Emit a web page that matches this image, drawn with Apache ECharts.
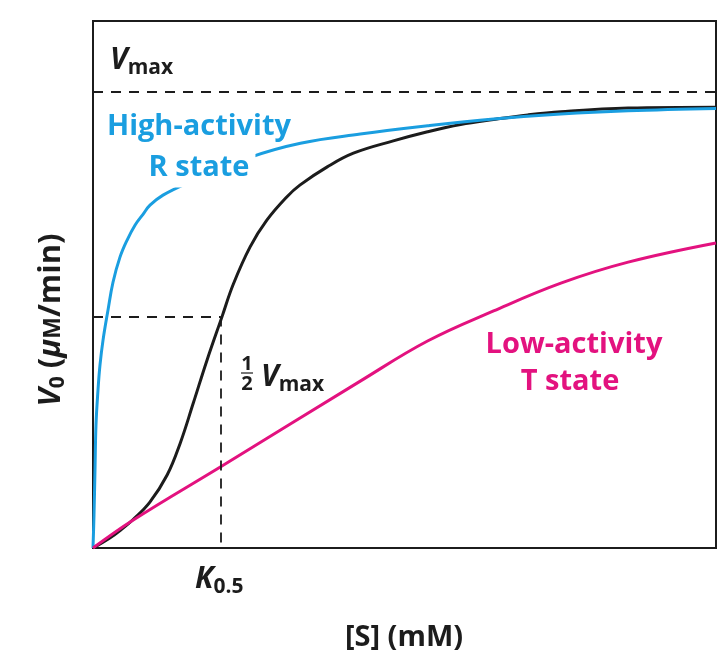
<!DOCTYPE html>
<html>
<head>
<meta charset="utf-8">
<script src="https://cdn.jsdelivr.net/npm/echarts@6/dist/echarts.min.js"></script>
<style>
  html, body { margin: 0; padding: 0; background: #fff; }
  #chart { width: 723px; height: 664px; }
</style>
</head>
<body>
<div id="chart"></div>
<script>
// [S] on an arbitrary 0-10 scale, V0 as a fraction of Vmax
const rState = [
  [0, 0], [0.016, 0.072], [0.032, 0.171], [0.048, 0.27], [0.08, 0.346], [0.112, 0.401],
  [0.161, 0.456], [0.241, 0.522], [0.321, 0.583], [0.433, 0.638], [0.546, 0.675],
  [0.674, 0.708], [0.803, 0.732], [0.915, 0.752], [1.124, 0.774], [1.51, 0.80],
  [2.52, 0.857], [3.33, 0.888], [4.29, 0.908], [5.37, 0.926], [6.43, 0.941],
  [7.51, 0.952], [8.59, 0.959], [10, 0.964]
];
const sigmoid = [
  [0, 0], [0.27, 0.022], [0.45, 0.04], [0.64, 0.062], [0.91, 0.10], [1.19, 0.16],
  [1.40, 0.23], [1.61, 0.318], [1.83, 0.412], [2.07, 0.507], [2.25, 0.578], [2.52, 0.66],
  [2.79, 0.719], [3.11, 0.77], [3.32, 0.796], [3.76, 0.836], [4.18, 0.866], [4.82, 0.893],
  [5.37, 0.913], [5.90, 0.929], [6.43, 0.94], [6.98, 0.95], [7.51, 0.957], [8.59, 0.965],
  [10, 0.967]
];
const tState = [
  [0, 0], [0.64, 0.061], [2.07, 0.18], [4.29, 0.366], [5.37, 0.454], [6.43, 0.52],
  [7.51, 0.581], [8.59, 0.627], [10, 0.669]
];
const vMax = 1;
const halfVmax = 0.508;
const k05 = 2.05;

const BLUE = '#1a9ee0';
const PINK = '#e3127f';
const INK = '#1c1c1c';
const FONT = 'Open Sans';

const chart = echarts.init(document.getElementById('chart'));

const dashed = { type: [10, 8], color: INK, width: 1.8 };

function label(text, x, y, size, color, extra) {
  return Object.assign({
    type: 'text', x: x, y: y, z: 100,
    style: {
      text: text, fill: color, font: 'bold ' + size + 'px "' + FONT + '"',
      align: 'center', verticalAlign: 'middle'
    }
  }, extra || {});
}

// rich-text pieces: big italic letter + subscript
const subRich = {
  v: { fontFamily: FONT, fontWeight: 'bold', fontStyle: 'italic', fontSize: 30, fill: INK },
  s: { fontFamily: FONT, fontWeight: 'bold', fontSize: 21, fill: INK, padding: [17, 0, 0, 0] }
};

chart.setOption({
  animation: false,
  grid: {
    left: 93, right: 7, top: 21, bottom: 116,
    show: true, borderColor: INK, borderWidth: 2, backgroundColor: 'transparent'
  },
  xAxis: {
    type: 'value', min: 0, max: 10,
    axisLine: { show: false }, axisTick: { show: false },
    axisLabel: { show: false }, splitLine: { show: false }
  },
  yAxis: {
    type: 'value', min: 0, max: 1.156,
    axisLine: { show: false }, axisTick: { show: false },
    axisLabel: { show: false }, splitLine: { show: false }
  },
  series: [
    {
      name: 'sigmoid', type: 'line', data: sigmoid, showSymbol: false,
      smooth: 0.4,
      lineStyle: { color: INK, width: 3 },
      markLine: {
        silent: true, symbol: 'none', label: { show: false },
        lineStyle: dashed,
        data: [
          { yAxis: vMax },
          [{ coord: [0, halfVmax] }, { coord: [k05, halfVmax] }],
          [{ coord: [k05, halfVmax] }, { coord: [k05, 0] }]
        ]
      }
    },
    {
      name: 'R state', type: 'line', data: rState, showSymbol: false,
      smooth: 0.4,
      lineStyle: { color: BLUE, width: 3 }
    },
    {
      name: 'T state', type: 'line', data: tState, showSymbol: false,
      smooth: 0.4,
      lineStyle: { color: PINK, width: 3 }
    }
  ],
  graphic: [
    {
      type: 'text', x: 110, y: 60, z: 100,
      style: { text: '{v|V}{s|max}', rich: subRich, align: 'left', verticalAlign: 'middle' }
    },
    label('High-activity', 199, 127, 29, BLUE),
    label('R state', 199, 168, 29, BLUE, {
      style: {
        text: 'R state', fill: BLUE, font: 'bold 29px "' + FONT + '"',
        align: 'center', verticalAlign: 'middle',
        backgroundColor: '#fff', padding: [4, 6, 6, 6]
      }
    }),
    label('Low-activity', 574, 345, 29, PINK),
    label('T state', 570, 382, 29, PINK),
    label('1', 247, 364, 20, INK),
    {
      type: 'line', z: 100,
      shape: { x1: 241, y1: 373, x2: 253, y2: 373 },
      style: { stroke: INK, lineWidth: 1.2 }
    },
    label('2', 247, 384, 20, INK),
    {
      type: 'text', x: 261, y: 377, z: 100,
      style: { text: '{v|V}{s|max}', rich: subRich, align: 'left', verticalAlign: 'middle' }
    },
    {
      type: 'text', x: 195, y: 579, z: 100,
      style: { text: '{v|K}{s|0.5}', rich: subRich, align: 'left', verticalAlign: 'middle' }
    },
    label('[S] (mM)', 404, 638, 29, INK),
    {
      type: 'text', x: 51, y: 320, rotation: Math.PI / 2, z: 100,
      style: {
        text: '{v|V}{s|0}{n| (}{mu|μ}{sm|M}{n|/min)}',
        align: 'center', verticalAlign: 'middle',
        rich: {
          v: { fontFamily: FONT, fontWeight: 'bold', fontStyle: 'italic', fontSize: 31, fill: INK },
          s: { fontFamily: FONT, fontWeight: 'bold', fontSize: 21, fill: INK, padding: [14, 0, 0, 0] },
          n: { fontFamily: FONT, fontWeight: 'bold', fontSize: 31, fill: INK },
          mu: { fontFamily: FONT, fontWeight: 'bold', fontStyle: 'italic', fontSize: 31, fill: INK },
          sm: { fontFamily: FONT, fontWeight: 'bold', fontSize: 23, fill: INK, padding: [5, 0, 0, 0] }
        }
      }
    }
  ]
});
</script>
</body>
</html>
